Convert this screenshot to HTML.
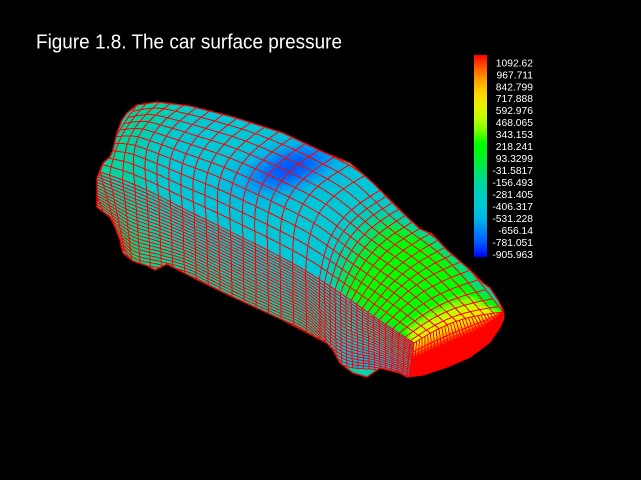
<!DOCTYPE html>
<html><head><meta charset="utf-8">
<style>
html,body{margin:0;padding:0;background:#000;}
body{width:641px;height:480px;overflow:hidden;}
svg{display:block;}
</style></head><body>
<svg id="s" width="641" height="480" viewBox="0 0 641 480" xmlns="http://www.w3.org/2000/svg">
<defs>
<clipPath id="car"><polygon points="97,178 103,163 110,157 113,150 117,133 122,120 127,113 137,105 157,102 190,106 233,117 283,133 323,152 350,163 373,183 390,200 407,217 420,229 432,234 447,250 470,270 483,283 490,288 498,300 503,310 504,318 500,327 490,342 470,357 447,367 423,375 407,377 400,373 380,368 367,377 353,373 340,363 333,350 327,343 283,320 233,297 200,281 167,264 155,270 148,266 133,261 123,253 120,240 115,227 110,217 97,207"/></clipPath>
<linearGradient id="cb" x1="0" y1="0" x2="0" y2="1">
<stop offset="0" stop-color="rgb(255,0,0)"/>
<stop offset="0.0625" stop-color="rgb(255,90,0)"/>
<stop offset="0.125" stop-color="rgb(255,160,0)"/>
<stop offset="0.1875" stop-color="rgb(255,210,0)"/>
<stop offset="0.25" stop-color="rgb(230,240,0)"/>
<stop offset="0.3125" stop-color="rgb(190,255,0)"/>
<stop offset="0.375" stop-color="rgb(120,255,0)"/>
<stop offset="0.4375" stop-color="rgb(0,255,0)"/>
<stop offset="0.5" stop-color="rgb(0,245,30)"/>
<stop offset="0.5625" stop-color="rgb(0,230,90)"/>
<stop offset="0.625" stop-color="rgb(0,215,150)"/>
<stop offset="0.6875" stop-color="rgb(0,205,190)"/>
<stop offset="0.75" stop-color="rgb(0,200,215)"/>
<stop offset="0.8125" stop-color="rgb(0,180,230)"/>
<stop offset="0.875" stop-color="rgb(0,130,250)"/>
<stop offset="0.9375" stop-color="rgb(0,80,255)"/>
<stop offset="1" stop-color="rgb(0,0,255)"/>
</linearGradient>
</defs>
<rect width="641" height="480" fill="#000"/>
<text x="36" y="48.7" font-family="Liberation Sans, Arial, sans-serif" font-size="20.5" fill="#fff" textLength="306" lengthAdjust="spacingAndGlyphs">Figure 1.8. The car surface pressure</text>
<g clip-path="url(#car)">
  <polygon points="97,178 103,163 110,157 113,150 117,133 122,120 127,113 137,105 157,102 190,106 233,117 283,133 323,152 350,163 373,183 390,200 407,217 420,229 432,234 447,250 470,270 483,283 490,288 498,300 503,310 504,318 500,327 490,342 470,357 447,367 423,375 407,377 400,373 380,368 367,377 353,373 340,363 333,350 327,343 283,320 233,297 200,281 167,264 155,270 148,266 133,261 123,253 120,240 115,227 110,217 97,207" fill="rgb(0,210,170)"/>
  <g id="cells"></g>
  <g id="grid" fill="none" stroke="#ff0000" stroke-width="1" shape-rendering="crispEdges"></g>
</g>
<polygon points="97,178 103,163 110,157 113,150 117,133 122,120 127,113 137,105 157,102 190,106 233,117 283,133 323,152 350,163 373,183 390,200 407,217 420,229 432,234 447,250 470,270 483,283 490,288 498,300 503,310 504,318 500,327 490,342 470,357 447,367 423,375 407,377 400,373 380,368 367,377 353,373 340,363 333,350 327,343 283,320 233,297 200,281 167,264 155,270 148,266 133,261 123,253 120,240 115,227 110,217 97,207" fill="none" stroke="#ff0000" stroke-width="1.3"/>
<rect x="474" y="55" width="13" height="202" fill="url(#cb)"/>
<g font-family="Liberation Sans, Arial, sans-serif" font-size="10.3" fill="#fff" text-anchor="end">
<text x="533" y="66.3">1092.62</text>
<text x="533" y="78.3">967.711</text>
<text x="533" y="90.3">842.799</text>
<text x="533" y="102.2">717.888</text>
<text x="533" y="114.2">592.976</text>
<text x="533" y="126.2">468.065</text>
<text x="533" y="138.2">343.153</text>
<text x="533" y="150.2">218.241</text>
<text x="533" y="162.1">93.3299</text>
<text x="533" y="174.1">-31.5817</text>
<text x="533" y="186.1">-156.493</text>
<text x="533" y="198.1">-281.405</text>
<text x="533" y="210.1">-406.317</text>
<text x="533" y="222.0">-531.228</text>
<text x="533" y="234.0">-656.14</text>
<text x="533" y="246.0">-781.051</text>
<text x="533" y="258.0">-905.963</text>
</g>
</svg>
<script>
(function(){
const Lk=[[100,172],[128,182],[157,195],[186,210],[215,224],[245,239],[275,254],[306,271],[340,293],[376,318],[414,343]];
const Rk=[[137,105],[165,102],[195,107],[228,115],[262,125],[295,138],[328,154],[365,176],[405,215],[458,257],[503,312]];
const Bk=[[120,245],[135,262],[160,268],[188,275],[217,289],[246,303],[276,317],[307,332],[341,364],[377,370],[410,378]];
const FB=[[409,378],[423,375],[447,367],[470,357],[490,342],[500,327],[504,312]];
const CM=[[0,0,255],[0,80,255],[0,130,250],[0,180,230],[0,200,215],[0,205,190],[0,215,150],[0,230,90],[0,245,30],[0,255,0],[120,255,0],[190,255,0],[230,240,0],[255,210,0],[255,160,0],[255,90,0],[255,0,0]];
function cmap(t){t=Math.max(0,Math.min(1,t))*16;let i=Math.min(Math.floor(t),15),f=t-i;const a=CM[i],b=CM[i+1];
 return 'rgb('+Math.round(a[0]+(b[0]-a[0])*f)+','+Math.round(a[1]+(b[1]-a[1])*f)+','+Math.round(a[2]+(b[2]-a[2])*f)+')';}
function ss(a,b,x){let t=(x-a)/(b-a);t=Math.max(0,Math.min(1,t));return t*t*(3-2*t);}
function cr(K,u){
 const n=K.length-1;let f=u*n;
 if(f<0){const a=K[0],b=K[1];return [a[0]+(b[0]-a[0])*f,a[1]+(b[1]-a[1])*f];}
 let i=Math.min(Math.floor(f),n-1);let t=f-i;
 const p0=K[Math.max(i-1,0)],p1=K[i],p2=K[i+1],p3=K[Math.min(i+2,n)];
 const t2=t*t,t3=t2*t;
 return [0,1].map(k=>0.5*((2*p1[k])+(-p0[k]+p2[k])*t+(2*p0[k]-5*p1[k]+4*p2[k]-p3[k])*t2+(-p0[k]+3*p1[k]-3*p2[k]+p3[k])*t3));
}
function bul(u){if(u<0.12)return 0.04+0.14*u/0.12;if(u<0.68)return 0.18;if(u<0.86)return 0.18-0.11*(u-0.68)/0.18;return 0.07;}
function top(u,v){const L=cr(Lk,u),R=cr(Rk,u);const dx=R[0]-L[0],dy=R[1]-L[1],len=Math.hypot(dx,dy);
 const b=bul(u)*len*Math.sin(Math.PI*v);return [L[0]+dx*v+dy/len*b,L[1]+dy*v-dx/len*b];}
function side(u,w){const L=cr(Lk,u),B=cr(Bk,u);return [L[0]+(B[0]-L[0])*w,L[1]+(B[1]-L[1])*w];}
const FBl=[0];for(let i=1;i<FB.length;i++)FBl.push(FBl[i-1]+Math.hypot(FB[i][0]-FB[i-1][0],FB[i][1]-FB[i-1][1]));
function polyAt(s){const T=FBl[FBl.length-1]*s;for(let i=1;i<FB.length;i++){if(T<=FBl[i]||i==FB.length-1){const f=(T-FBl[i-1])/(FBl[i]-FBl[i-1]);return [FB[i-1][0]+(FB[i][0]-FB[i-1][0])*f,FB[i-1][1]+(FB[i][1]-FB[i-1][1])*f];}}}
function front(s,w){const T=top(1,s),B=polyAt(s);return [T[0]+(B[0]-T[0])*w,T[1]+(B[1]-T[1])*w];}
function tTop(u,v,x,y){
 let t=0.25+0.11*(1-ss(0.05,0.3,u));
 const dx=x-290,dy=y-168,c=0.946,s=-0.325;const a=dx*c+dy*s,b=-dx*s+dy*c;
 t-=0.18*Math.exp(-(a*a/(2*36*36)+b*b/(2*16*16)));
 const g=ss(0.72,0.86,u);
 const edge=Math.max(ss(0.8,1.0,v),0.5*(1-ss(0.0,0.1,v)));
 const hood=0.56-0.18*edge;
 t=t*(1-g)+hood*g;
 t+=0.2*ss(0.94,1.0,u);
 return t;}
function tSide(u,w){let t=0.27+0.08*w+0.06*(1-ss(0,0.4,u));t-=0.13*ss(0.72,0.85,u)*ss(0.3,0.9,w);return t;}
function tFront(s,w){return 0.74+0.26*ss(0,0.5,w);}
const out=[];
function P(p){return p[0].toFixed(1)+','+p[1].toFixed(1);}
function poly(pts,col){out.push('<polygon points="'+pts.map(P).join(' ')+'" fill="'+col+'" stroke="'+col+'" stroke-width="0.7"/>');}
let NU=90,NW=20;
for(let i=0;i<NU;i++){const u0=-0.1+1.1*i/NU,u1=-0.1+1.1*(i+1)/NU;
 for(let j=0;j<NW;j++){const w0=j/NW,w1=(j+1)/NW;
  poly([side(u0,w0),side(u1,w0),side(u1,w1),side(u0,w1)],cmap(tSide((u0+u1)/2,(w0+w1)/2)));}}
for(let i=0;i<30;i++){const s0=i/30,s1=(i+1)/30;
 for(let j=0;j<12;j++){const w0=j/12,w1=(j+1)/12;
  poly([front(s0,w0),front(s1,w0),front(s1,w1),front(s0,w1)],cmap(tFront((s0+s1)/2,(w0+w1)/2)));}}
NU=100;const NV=24;
for(let i=0;i<NU;i++){const u0=i/NU,u1=(i+1)/NU;
 for(let j=0;j<NV;j++){const v0=j/NV,v1=(j+1)/NV;
  const a=top(u0,v0),b=top(u1,v0),c=top(u1,v1),d=top(u0,v1);
  const cx=(a[0]+b[0]+c[0]+d[0])/4,cy=(a[1]+b[1]+c[1]+d[1])/4;
  poly([a,b,c,d],cmap(tTop((u0+u1)/2,(v0+v1)/2,cx,cy)));}}
document.getElementById('cells').innerHTML=out.join('');
const g=[];
function pl(fn,a,b,n){const pts=[];for(let k=0;k<=n;k++)pts.push(P(fn(a+(b-a)*k/n)));g.push('<polyline points="'+pts.join(' ')+'"/>');}
const us=[];for(let i=0;i<=18;i++)us.push(0.74*i/18);for(let j=1;j<=17;j++)us.push(0.74+0.26*j/17);
us.forEach(u=>pl(v=>top(u,v),0,1,30));
for(let k=0;k<=10;k++){const v=k/10;pl(u=>top(u,v),0,1,120);}
us.forEach(u=>pl(w=>side(u,w),0,1,4));
pl(w=>side(-0.05,w),0,1,4);
for(let k=0;k<=22;k++){const w=k/22;pl(u=>side(u,w),-0.1,1,120);}
for(let k=0;k<=30;k++){const s=k/30;pl(w=>front(s,w),0,1,3);}
for(let k=1;k<=3;k++){const w=k/4;pl(s=>front(s,w),0,1,30);}
document.getElementById('grid').innerHTML=g.join('');
})();
</script>
</body></html>
